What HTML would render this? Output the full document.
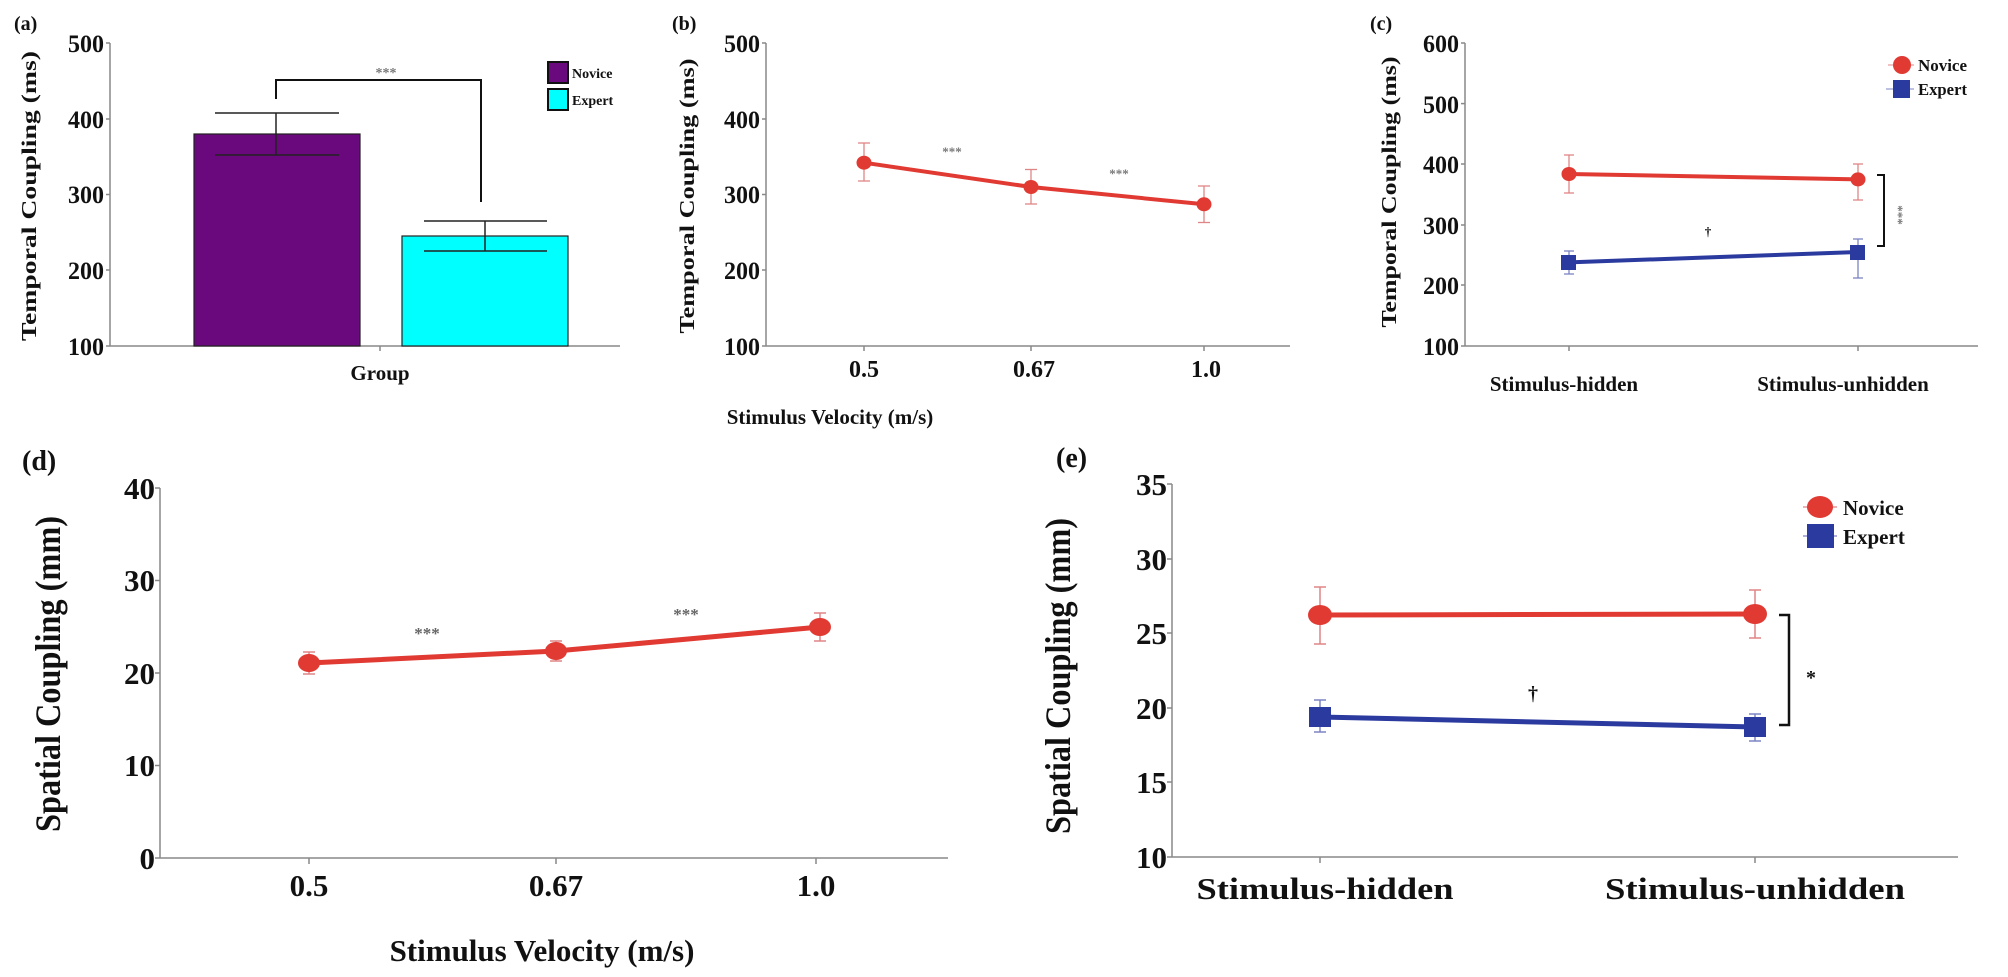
<!DOCTYPE html>
<html><head><meta charset="utf-8"><style>
html,body{margin:0;padding:0;background:#fff}
svg{display:block}
text{font-family:"Liberation Serif",serif;font-weight:bold;fill:#111}
</style></head><body>
<svg width="2008" height="977" viewBox="0 0 2008 977" xmlns="http://www.w3.org/2000/svg">
<!-- ===== Panel a ===== -->
<text x="14" y="30" font-size="20">(a)</text>
<text transform="translate(36,196) rotate(-90)" text-anchor="middle" font-size="21" textLength="290" lengthAdjust="spacingAndGlyphs">Temporal Coupling (ms)</text>
<g stroke="#888" stroke-width="1.5" fill="none">
<line x1="110" y1="43" x2="110" y2="346"/><line x1="110" y1="346" x2="620" y2="346"/>
<line x1="106" y1="43" x2="110" y2="43"/><line x1="106" y1="119" x2="110" y2="119"/><line x1="106" y1="194.5" x2="110" y2="194.5"/><line x1="106" y1="270" x2="110" y2="270"/><line x1="106" y1="346" x2="110" y2="346"/>
<line x1="380" y1="346" x2="380" y2="351"/>
</g>
<g font-size="25" text-anchor="end">
<text x="104" y="52" textLength="36" lengthAdjust="spacingAndGlyphs">500</text><text x="104" y="128" textLength="36" lengthAdjust="spacingAndGlyphs">400</text><text x="104" y="203" textLength="36" lengthAdjust="spacingAndGlyphs">300</text><text x="104" y="279" textLength="36" lengthAdjust="spacingAndGlyphs">200</text><text x="104" y="355" textLength="36" lengthAdjust="spacingAndGlyphs">100</text>
</g>
<text x="380" y="380" font-size="21" text-anchor="middle">Group</text>
<rect x="194" y="134" width="166" height="212" fill="#6a087e" stroke="#222" stroke-width="1.2"/>
<rect x="402" y="236" width="166" height="110" fill="#00ffff" stroke="#222" stroke-width="1.2"/>
<g stroke="#222" stroke-width="1.5">
<line x1="276" y1="113" x2="276" y2="155"/><line x1="215" y1="113" x2="339" y2="113"/><line x1="215" y1="155" x2="339" y2="155"/>
<line x1="485" y1="221" x2="485" y2="251"/><line x1="424" y1="221" x2="547" y2="221"/><line x1="424" y1="251" x2="547" y2="251"/>
</g>
<polyline points="276,99 276,80 481,80 481,202" fill="none" stroke="#111" stroke-width="2"/>
<text x="386" y="77" font-size="14" text-anchor="middle" style="fill:#777">***</text>
<rect x="548" y="62" width="20" height="21" fill="#6a087e" stroke="#111" stroke-width="2"/>
<rect x="548" y="89" width="20" height="21" fill="#00ffff" stroke="#111" stroke-width="2"/>
<text x="572" y="78" font-size="14">Novice</text>
<text x="572" y="105" font-size="14">Expert</text>

<!-- ===== Panel b ===== -->
<text x="672" y="30" font-size="20">(b)</text>
<text transform="translate(694,196) rotate(-90)" text-anchor="middle" font-size="21" textLength="275" lengthAdjust="spacingAndGlyphs">Temporal Coupling (ms)</text>
<g stroke="#888" stroke-width="1.5" fill="none">
<line x1="766" y1="43" x2="766" y2="346"/><line x1="766" y1="346" x2="1290" y2="346"/>
<line x1="762" y1="43" x2="766" y2="43"/><line x1="762" y1="119" x2="766" y2="119"/><line x1="762" y1="194.5" x2="766" y2="194.5"/><line x1="762" y1="270" x2="766" y2="270"/><line x1="762" y1="346" x2="766" y2="346"/>
<line x1="864" y1="346" x2="864" y2="351"/><line x1="1031" y1="346" x2="1031" y2="351"/><line x1="1204" y1="346" x2="1204" y2="351"/>
</g>
<g font-size="25" text-anchor="end">
<text x="760" y="52" textLength="36" lengthAdjust="spacingAndGlyphs">500</text><text x="760" y="128" textLength="36" lengthAdjust="spacingAndGlyphs">400</text><text x="760" y="203" textLength="36" lengthAdjust="spacingAndGlyphs">300</text><text x="760" y="279" textLength="36" lengthAdjust="spacingAndGlyphs">200</text><text x="760" y="355" textLength="36" lengthAdjust="spacingAndGlyphs">100</text>
</g>
<g font-size="24" text-anchor="middle">
<text x="864" y="377">0.5</text><text x="1034" y="377">0.67</text><text x="1206" y="377">1.0</text>
</g>
<text x="830" y="424" font-size="21" text-anchor="middle">Stimulus Velocity (m/s)</text>
<g stroke="#e08585" stroke-width="1.3">
<line x1="864" y1="143" x2="864" y2="181"/><line x1="858" y1="143" x2="870" y2="143"/><line x1="858" y1="181" x2="870" y2="181"/>
<line x1="1031" y1="169.5" x2="1031" y2="204"/><line x1="1025" y1="169.5" x2="1037" y2="169.5"/><line x1="1025" y1="204" x2="1037" y2="204"/>
<line x1="1204" y1="186" x2="1204" y2="222.5"/><line x1="1198" y1="186" x2="1210" y2="186"/><line x1="1198" y1="222.5" x2="1210" y2="222.5"/>
</g>
<polyline points="864,162.7 1031,187 1204,204.3" fill="none" stroke="#e03a33" stroke-width="4"/>
<g fill="#e03a33"><ellipse cx="864" cy="162.7" rx="7.5" ry="7"/><ellipse cx="1031" cy="187" rx="7.5" ry="7"/><ellipse cx="1204" cy="204.3" rx="7.5" ry="7"/></g>
<text x="952" y="156" font-size="13" text-anchor="middle" style="fill:#777">***</text>
<text x="1119" y="178" font-size="13" text-anchor="middle" style="fill:#777">***</text>

<!-- ===== Panel c ===== -->
<text x="1370" y="30" font-size="20">(c)</text>
<text transform="translate(1396,192) rotate(-90)" text-anchor="middle" font-size="21" textLength="271" lengthAdjust="spacingAndGlyphs">Temporal Coupling (ms)</text>
<g stroke="#888" stroke-width="1.5" fill="none">
<line x1="1465" y1="43" x2="1465" y2="346"/><line x1="1465" y1="346" x2="1978" y2="346"/>
<line x1="1461" y1="43" x2="1465" y2="43"/><line x1="1461" y1="103.6" x2="1465" y2="103.6"/><line x1="1461" y1="164" x2="1465" y2="164"/><line x1="1461" y1="225" x2="1465" y2="225"/><line x1="1461" y1="285" x2="1465" y2="285"/><line x1="1461" y1="346" x2="1465" y2="346"/>
<line x1="1569" y1="346" x2="1569" y2="351"/><line x1="1858" y1="346" x2="1858" y2="351"/>
</g>
<g font-size="25" text-anchor="end">
<text x="1459" y="52" textLength="36" lengthAdjust="spacingAndGlyphs">600</text><text x="1459" y="113" textLength="36" lengthAdjust="spacingAndGlyphs">500</text><text x="1459" y="173" textLength="36" lengthAdjust="spacingAndGlyphs">400</text><text x="1459" y="234" textLength="36" lengthAdjust="spacingAndGlyphs">300</text><text x="1459" y="294" textLength="36" lengthAdjust="spacingAndGlyphs">200</text><text x="1459" y="355" textLength="36" lengthAdjust="spacingAndGlyphs">100</text>
</g>
<g font-size="21" text-anchor="middle">
<text x="1564" y="391">Stimulus-hidden</text><text x="1843" y="391">Stimulus-unhidden</text>
</g>
<g stroke="#e08585" stroke-width="1.3">
<line x1="1569" y1="155" x2="1569" y2="193"/><line x1="1564" y1="155" x2="1574" y2="155"/><line x1="1564" y1="193" x2="1574" y2="193"/>
<line x1="1858" y1="164" x2="1858" y2="200"/><line x1="1853" y1="164" x2="1863" y2="164"/><line x1="1853" y1="200" x2="1863" y2="200"/>
</g>
<g stroke="#7c84c4" stroke-width="1.3">
<line x1="1569" y1="251" x2="1569" y2="274"/><line x1="1564" y1="251" x2="1574" y2="251"/><line x1="1564" y1="274" x2="1574" y2="274"/>
<line x1="1858" y1="239" x2="1858" y2="278"/><line x1="1853" y1="239" x2="1863" y2="239"/><line x1="1853" y1="278" x2="1863" y2="278"/>
</g>
<line x1="1569" y1="174" x2="1858" y2="179.4" stroke="#e03a33" stroke-width="4"/>
<line x1="1569" y1="262.4" x2="1858" y2="252" stroke="#2b3a9e" stroke-width="4"/>
<g fill="#e03a33"><ellipse cx="1569" cy="174" rx="7.5" ry="7"/><ellipse cx="1858" cy="179.4" rx="7.5" ry="7"/></g>
<g fill="#2b3a9e"><rect x="1561" y="255" width="15" height="15"/><rect x="1850" y="245" width="15" height="15"/></g>
<polyline points="1877,175 1884,175 1884,246 1877,246" fill="none" stroke="#111" stroke-width="2"/>
<text transform="translate(1894,215) rotate(90)" text-anchor="middle" font-size="13" style="fill:#777">***</text>
<text x="1708" y="236" font-size="13" text-anchor="middle">†</text>
<line x1="1888" y1="65" x2="1914" y2="65" stroke="#e08585" stroke-width="1"/>
<line x1="1886" y1="89" x2="1914" y2="89" stroke="#7c84c4" stroke-width="1"/>
<circle cx="1902" cy="65" r="9" fill="#e03a33"/>
<rect x="1893" y="80" width="17" height="18" fill="#2b3a9e"/>
<text x="1918" y="71" font-size="17" textLength="49" lengthAdjust="spacingAndGlyphs">Novice</text>
<text x="1918" y="95" font-size="17" textLength="49" lengthAdjust="spacingAndGlyphs">Expert</text>

<!-- ===== Panel d ===== -->
<text x="22" y="470" font-size="28">(d)</text>
<text transform="translate(60,674) rotate(-90)" text-anchor="middle" font-size="36" textLength="316" lengthAdjust="spacingAndGlyphs">Spatial Coupling (mm)</text>
<g stroke="#888" stroke-width="1.5" fill="none">
<line x1="160" y1="488" x2="160" y2="858"/><line x1="160" y1="858" x2="948" y2="858"/>
<line x1="155" y1="488" x2="160" y2="488"/><line x1="155" y1="580.5" x2="160" y2="580.5"/><line x1="155" y1="673" x2="160" y2="673"/><line x1="155" y1="765.5" x2="160" y2="765.5"/><line x1="155" y1="858" x2="160" y2="858"/>
<line x1="309" y1="858" x2="309" y2="864"/><line x1="556" y1="858" x2="556" y2="864"/><line x1="816" y1="858" x2="816" y2="864"/>
</g>
<g font-size="31" text-anchor="end">
<text x="155" y="499">40</text><text x="155" y="591">30</text><text x="155" y="684">20</text><text x="155" y="776">10</text><text x="155" y="869">0</text>
</g>
<g font-size="31" text-anchor="middle">
<text x="309" y="896">0.5</text><text x="556" y="896">0.67</text><text x="816" y="896">1.0</text>
</g>
<text x="542" y="961" font-size="31" text-anchor="middle">Stimulus Velocity (m/s)</text>
<g stroke="#e08585" stroke-width="1.5">
<line x1="309" y1="652" x2="309" y2="674"/><line x1="303" y1="652" x2="315" y2="652"/><line x1="303" y1="674" x2="315" y2="674"/>
<line x1="556" y1="641" x2="556" y2="661"/><line x1="550" y1="641" x2="562" y2="641"/><line x1="550" y1="661" x2="562" y2="661"/>
<line x1="820" y1="613" x2="820" y2="641"/><line x1="814" y1="613" x2="826" y2="613"/><line x1="814" y1="641" x2="826" y2="641"/>
</g>
<polyline points="309,663 556,651 820,627" fill="none" stroke="#e03a33" stroke-width="5"/>
<g fill="#e03a33"><ellipse cx="309" cy="663" rx="11" ry="9"/><ellipse cx="556" cy="651" rx="11" ry="9"/><ellipse cx="820" cy="627" rx="11" ry="9"/></g>
<text x="427" y="639" font-size="17" text-anchor="middle" style="fill:#666">***</text>
<text x="686" y="620" font-size="17" text-anchor="middle" style="fill:#666">***</text>

<!-- ===== Panel e ===== -->
<text x="1056" y="467" font-size="28">(e)</text>
<text transform="translate(1070,676) rotate(-90)" text-anchor="middle" font-size="36" textLength="316" lengthAdjust="spacingAndGlyphs">Spatial Coupling (mm)</text>
<g stroke="#888" stroke-width="1.5" fill="none">
<line x1="1172" y1="484" x2="1172" y2="857"/><line x1="1172" y1="857" x2="1958" y2="857"/>
<line x1="1167" y1="484" x2="1172" y2="484"/><line x1="1167" y1="559" x2="1172" y2="559"/><line x1="1167" y1="633" x2="1172" y2="633"/><line x1="1167" y1="708" x2="1172" y2="708"/><line x1="1167" y1="782" x2="1172" y2="782"/><line x1="1167" y1="857" x2="1172" y2="857"/>
<line x1="1320" y1="857" x2="1320" y2="863"/><line x1="1755" y1="857" x2="1755" y2="863"/>
</g>
<g font-size="31" text-anchor="end">
<text x="1167" y="495">35</text><text x="1167" y="570">30</text><text x="1167" y="644">25</text><text x="1167" y="719">20</text><text x="1167" y="793">15</text><text x="1167" y="868">10</text>
</g>
<g font-size="31" text-anchor="middle">
<text x="1325" y="899" textLength="257" lengthAdjust="spacingAndGlyphs">Stimulus-hidden</text><text x="1755" y="899" textLength="300" lengthAdjust="spacingAndGlyphs">Stimulus-unhidden</text>
</g>
<g stroke="#e08585" stroke-width="1.5">
<line x1="1320" y1="587" x2="1320" y2="644"/><line x1="1314" y1="587" x2="1326" y2="587"/><line x1="1314" y1="644" x2="1326" y2="644"/>
<line x1="1755" y1="590" x2="1755" y2="638"/><line x1="1749" y1="590" x2="1761" y2="590"/><line x1="1749" y1="638" x2="1761" y2="638"/>
</g>
<g stroke="#7c84c4" stroke-width="1.5">
<line x1="1320" y1="700" x2="1320" y2="732"/><line x1="1314" y1="700" x2="1326" y2="700"/><line x1="1314" y1="732" x2="1326" y2="732"/>
<line x1="1755" y1="714" x2="1755" y2="741"/><line x1="1749" y1="714" x2="1761" y2="714"/><line x1="1749" y1="741" x2="1761" y2="741"/>
</g>
<line x1="1320" y1="615" x2="1755" y2="614" stroke="#e03a33" stroke-width="5"/>
<line x1="1320" y1="717" x2="1755" y2="727" stroke="#2b3a9e" stroke-width="5"/>
<g fill="#e03a33"><ellipse cx="1320" cy="615" rx="12" ry="10"/><ellipse cx="1755" cy="614" rx="12" ry="10"/></g>
<g fill="#2b3a9e"><rect x="1309" y="707" width="22" height="20"/><rect x="1744" y="717" width="22" height="20"/></g>
<polyline points="1779,615 1789,615 1789,725 1779,725" fill="none" stroke="#111" stroke-width="2.5"/>
<text x="1811" y="684" font-size="20" text-anchor="middle">*</text>
<text x="1533" y="700" font-size="20" text-anchor="middle">†</text>
<line x1="1803" y1="507" x2="1837" y2="507" stroke="#e08585" stroke-width="1.2"/>
<line x1="1803" y1="536" x2="1837" y2="536" stroke="#7c84c4" stroke-width="1.2"/>
<ellipse cx="1820" cy="507" rx="13" ry="11" fill="#e03a33"/>
<rect x="1807" y="524" width="27" height="24" fill="#2b3a9e"/>
<text x="1843" y="515" font-size="21">Novice</text>
<text x="1843" y="544" font-size="21">Expert</text>
</svg>
</body></html>
